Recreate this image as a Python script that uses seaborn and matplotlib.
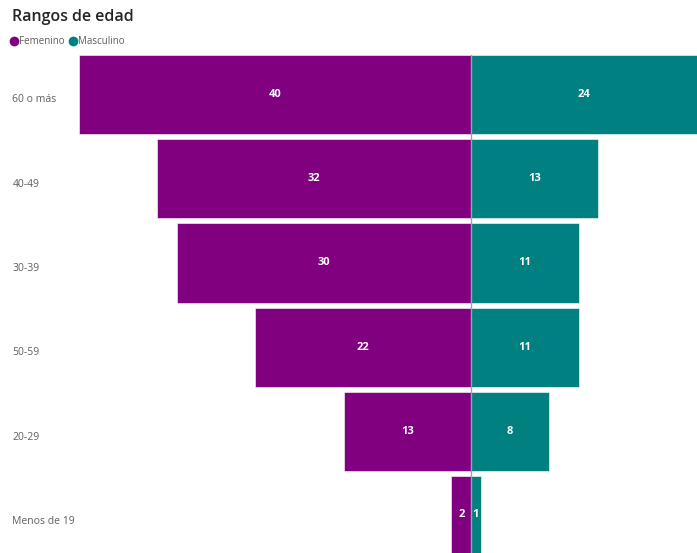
import numpy as np
import pandas as pd
import matplotlib.pyplot as plt
import matplotlib.transforms as mtransforms
import seaborn as sns
from matplotlib.lines import Line2D

rangos = ["60 o más", "40-49", "30-39", "50-59", "20-29", "Menos de 19"]
femenino = [40, 32, 30, 22, 13, 2]
masculino = [24, 13, 11, 11, 8, 1]
colores = {"Femenino": "#800080", "Masculino": "#008080"}

df = pd.DataFrame({
    "rango": rangos * 2,
    "valor": [-v for v in femenino] + masculino,
    "sexo": ["Femenino"] * len(rangos) + ["Masculino"] * len(rangos),
})

sns.set_style("white")
plt.rcParams['font.family'] = ['Open Sans', 'DejaVu Sans']

fig = plt.figure(figsize=(6.97, 5.53), dpi=100)
ax = fig.add_axes([79 / 697, 0, 1 - 79 / 697, 1 - 52 / 553])

sns.barplot(data=df, y="rango", x="valor", hue="sexo", order=rangos,
            palette=colores, dodge=False, width=0.94, orient="h", saturation=1,
            edgecolor="white", linewidth=0.4, ax=ax, legend=False)

ax.axvline(0, ymax=1 - 0.03 / 5.94, color="#a0a0a0", lw=1, zorder=5)

for cont, vals in zip(ax.containers, [femenino, masculino]):
    ax.bar_label(cont, labels=[str(v) for v in vals], label_type="center",
                 color="white", fontweight="bold", fontsize=8)

ax.set_xlim(-40, 23.06)
ax.set_ylim(5.44, -0.5)
ax.set_xlabel("")
ax.set_ylabel("")
ax.set_xticks([])
ax.tick_params(axis="y", length=0, pad=48, labelsize=7.5, labelcolor="#605e5c")
desplaza = mtransforms.ScaledTranslation(0, -4 / 100, fig.dpi_scale_trans)
for lab in ax.get_yticklabels():
    lab.set_horizontalalignment("left")
    lab.set_transform(lab.get_transform() + desplaza)
sns.despine(ax=ax, left=True, bottom=True)

fig.text(12 / 697, 1 - 17 / 553, "Rangos de edad", fontsize=11.5,
         fontweight="semibold", color="#252423", va="center", ha="left")

handles = [Line2D([0], [0], marker="o", linestyle="", markersize=6,
                  markerfacecolor=colores[k], markeredgecolor=colores[k])
           for k in colores]
fig.legend(handles, list(colores), loc="center left",
           bbox_to_anchor=(9 / 697, 1 - 42 / 553), frameon=False, ncol=2,
           fontsize=7, labelcolor="#605e5c", handletextpad=0.0,
           columnspacing=0.4, handlelength=1.0, borderaxespad=0, borderpad=0)

fig.savefig("out.png", dpi=100)
